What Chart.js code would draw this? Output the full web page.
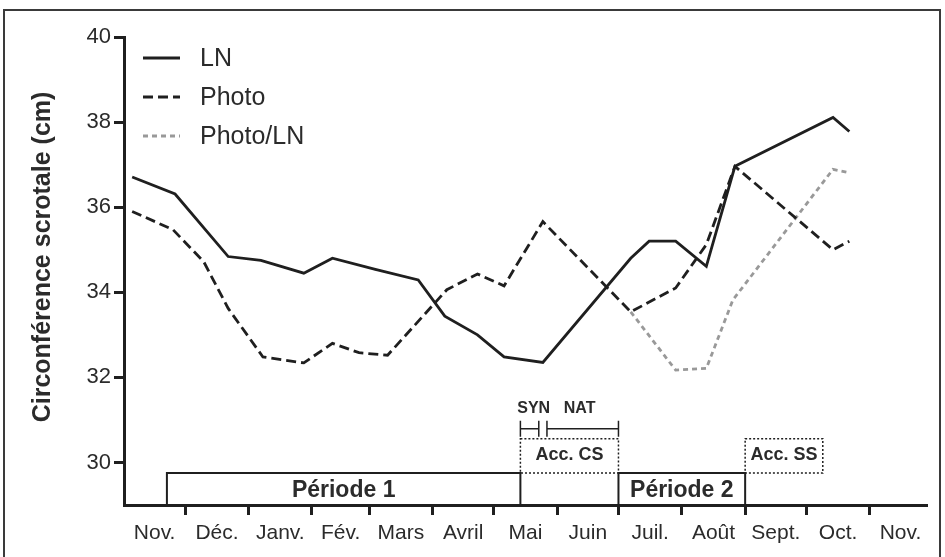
<!DOCTYPE html>
<html>
<head>
<meta charset="utf-8">
<script src="https://cdn.jsdelivr.net/npm/chart.js@4/dist/chart.umd.min.js"></script>
<style>
  html, body { margin: 0; padding: 0; background: #fff; }
  #wrap { width: 945px; height: 557px; position: relative; }
</style>
</head>
<body>
<div id="wrap"><canvas id="c" width="945" height="557"></canvas></div>
<script>
// Time axis: days counted from 1 November
const monthLabels = ['Nov.', 'Déc.', 'Janv.', 'Fév.', 'Mars', 'Avril', 'Mai', 'Juin', 'Juil.', 'Août', 'Sept.', 'Oct.', 'Nov.'];
const monthStarts = [0, 30, 61, 92, 120, 151, 181, 212, 242, 273, 304, 334, 365, 395];
const yTickValues = [30, 32, 34, 36, 38, 40];

// Scrotal circumference (cm) per group
const lnDays = [4, 25, 51, 67, 88, 102, 123, 144, 157, 173, 186, 205, 248, 257, 270, 285, 299, 347, 355];
const lnValues = [36.71, 36.31, 34.84, 34.75, 34.45, 34.80, 34.54, 34.29, 33.44, 33.00, 32.48, 32.35, 34.80, 35.20, 35.20, 34.61, 36.96, 38.11, 37.78];

const photoDays = [4, 24, 39, 51, 68, 88, 102, 115, 129, 158, 173, 186, 205, 248, 270, 285, 299, 347, 355];
const photoValues = [35.90, 35.47, 34.72, 33.62, 32.48, 32.34, 32.80, 32.58, 32.52, 34.06, 34.43, 34.15, 35.66, 33.54, 34.10, 35.12, 36.96, 35.00, 35.20];

const photoLnDays = [248, 270, 285, 298, 347, 355];
const photoLnValues = [33.54, 32.17, 32.21, 33.82, 36.89, 36.81];

// Experimental periods (days)
const periodNames = ['Période 1', 'Période 2'];
const periodStart = [21, 242];
const periodEnd = [194, 304];

const accNames = ['Acc. CS', 'Acc. SS'];
const accStart = [194, 304];
const accEnd = [242, 342];

const phaseNames = ['SYN', 'NAT'];
const phaseStart = [194, 207];
const phaseEnd = [203, 242];

const FONT = "'Liberation Sans', Arial, Helvetica, sans-serif";
const INK = '#1f1f1f';
const TEXT = '#2b2b2b';

const toPoints = (xs, ys) => xs.map((d, i) => ({ x: d, y: ys[i] }));

// Month ticks: boundaries carry the tick marks, mid-month positions carry the names
const monthNameAt = new Map();
for (let i = 0; i < monthLabels.length; i++) {
  monthNameAt.set((monthStarts[i] + monthStarts[i + 1]) / 2, monthLabels[i]);
}
const boundaryTicks = monthStarts.slice(1, 13);

const framePlugin = {
  id: 'frame',
  beforeDraw(chart) {
    const ctx = chart.ctx;
    ctx.save();
    ctx.fillStyle = '#fff';
    ctx.fillRect(0, 0, chart.width, chart.height);
    ctx.strokeStyle = '#3a3a3a';
    ctx.lineWidth = 2;
    ctx.strokeRect(4, 10, 936, 560);
    ctx.restore();
  }
};

const yTitlePlugin = {
  id: 'yTitle',
  afterDraw(chart) {
    const ctx = chart.ctx;
    ctx.save();
    ctx.translate(43, 257);
    ctx.rotate(-Math.PI / 2);
    ctx.font = 'bold 25px ' + FONT;
    ctx.fillStyle = TEXT;
    ctx.textAlign = 'center';
    ctx.textBaseline = 'middle';
    ctx.fillText('Circonférence scrotale (cm)', 0, 0);
    ctx.restore();
  }
};

const legendPlugin = {
  id: 'sideLegend',
  afterDraw(chart) {
    const ctx = chart.ctx;
    const rows = [58, 97, 136];
    ctx.save();
    chart.data.datasets.forEach((ds, i) => {
      const y = rows[i];
      ctx.beginPath();
      ctx.strokeStyle = ds.borderColor;
      ctx.lineWidth = ds.borderWidth;
      ctx.setLineDash(ds.borderDash || []);
      ctx.moveTo(143, y);
      ctx.lineTo(180, y);
      ctx.stroke();
      ctx.setLineDash([]);
      ctx.font = '25px ' + FONT;
      ctx.fillStyle = TEXT;
      ctx.textAlign = 'left';
      ctx.textBaseline = 'middle';
      ctx.fillText(ds.label, 200, y + 1);
    });
    ctx.restore();
  }
};

const periodsPlugin = {
  id: 'periods',
  afterDraw(chart) {
    const ctx = chart.ctx;
    const xs = chart.scales.x, ys = chart.scales.y;
    const px = d => xs.getPixelForValue(d);
    const py = v => ys.getPixelForValue(v);
    const base = chart.chartArea.bottom;
    ctx.save();
    ctx.fillStyle = TEXT;
    ctx.textAlign = 'center';
    ctx.textBaseline = 'middle';

    // Solid period boxes standing on the time axis
    const boxTop = py(29.75);
    ctx.strokeStyle = INK;
    ctx.lineWidth = 2;
    periodNames.forEach((name, i) => {
      const x0 = px(periodStart[i]), x1 = px(periodEnd[i]);
      ctx.beginPath();
      ctx.moveTo(x0, base);
      ctx.lineTo(x0, boxTop);
      ctx.lineTo(x1, boxTop);
      ctx.lineTo(x1, base);
      ctx.stroke();
      ctx.font = 'bold 23px ' + FONT;
      ctx.fillText(name, (x0 + x1) / 2, py(29.34));
    });

    // Dotted acclimation boxes
    const accTop = py(30.56);
    ctx.lineWidth = 1.5;
    ctx.setLineDash([2, 2]);
    accNames.forEach((name, i) => {
      const x0 = px(accStart[i]), x1 = px(accEnd[i]);
      ctx.strokeRect(x0, accTop, x1 - x0, boxTop - accTop);
    });
    ctx.setLineDash([]);
    accNames.forEach((name, i) => {
      const x0 = px(accStart[i]), x1 = px(accEnd[i]);
      ctx.font = 'bold 18px ' + FONT;
      ctx.fillText(name, (x0 + x1) / 2, py(30.165));
    });

    // SYN / NAT range brackets
    const by = py(30.79);
    ctx.lineWidth = 1.5;
    phaseNames.forEach((name, i) => {
      const x0 = px(phaseStart[i]), x1 = px(phaseEnd[i]);
      ctx.beginPath();
      ctx.moveTo(x0, by - 8); ctx.lineTo(x0, by + 8);
      ctx.moveTo(x1, by - 8); ctx.lineTo(x1, by + 8);
      ctx.moveTo(x0, by); ctx.lineTo(x1, by);
      ctx.stroke();
    });
    ctx.font = 'bold 16px ' + FONT;
    ctx.fillText(phaseNames[0], px(phaseStart[0] + 6.5), py(31.27));
    ctx.fillText(phaseNames[1], px(phaseStart[1] + 16), py(31.27));
    ctx.restore();
  }
};

new Chart(document.getElementById('c'), {
  type: 'line',
  data: {
    datasets: [
      {
        label: 'LN',
        data: toPoints(lnDays, lnValues),
        borderColor: INK,
        borderWidth: 2.8,
        borderDash: [],
      },
      {
        label: 'Photo',
        data: toPoints(photoDays, photoValues),
        borderColor: INK,
        borderWidth: 2.8,
        borderDash: [10, 5],
      },
      {
        label: 'Photo/LN',
        data: toPoints(photoLnDays, photoLnValues),
        borderColor: '#999999',
        borderWidth: 2.8,
        borderDash: [5, 4],
      }
    ]
  },
  options: {
    responsive: false,
    animation: false,
    events: [],
    layout: { padding: { left: 0, top: 37, right: 18, bottom: 0 } },
    elements: {
      point: { radius: 0 },
      line: { tension: 0, fill: false, borderCapStyle: 'butt', borderJoinStyle: 'miter' }
    },
    plugins: {
      legend: { display: false },
      tooltip: { enabled: false },
      title: { display: false }
    },
    scales: {
      x: {
        type: 'linear',
        min: 0,
        max: 393,
        afterBuildTicks(scale) {
          const vals = boundaryTicks.concat([...monthNameAt.keys()]).sort((a, b) => a - b);
          scale.ticks = vals.map(v => ({ value: v }));
        },
        afterFit(scale) { scale.height = 52; },
        ticks: {
          autoSkip: false,
          maxRotation: 0,
          minRotation: 0,
          padding: 6,
          color: TEXT,
          font: { family: FONT, size: 21 },
          callback: v => monthNameAt.get(v) || ''
        },
        grid: {
          display: true,
          drawOnChartArea: false,
          drawTicks: true,
          tickLength: 10,
          tickWidth: 3,
          tickColor: ctx => (ctx.tick && monthNameAt.has(ctx.tick.value)) ? 'rgba(0,0,0,0)' : INK
        },
        border: { display: true, color: INK, width: 3 }
      },
      y: {
        type: 'linear',
        min: 29,
        max: 40,
        afterBuildTicks(scale) {
          scale.ticks = yTickValues.map(v => ({ value: v }));
        },
        afterFit(scale) { scale.width = 124; },
        ticks: {
          padding: 3,
          color: TEXT,
          font: { family: FONT, size: 22 },
          callback: v => String(v)
        },
        grid: {
          display: true,
          drawOnChartArea: false,
          drawTicks: true,
          tickLength: 10,
          tickWidth: 3,
          tickColor: INK
        },
        border: { display: true, color: INK, width: 3 }
      }
    }
  },
  plugins: [framePlugin, periodsPlugin, legendPlugin, yTitlePlugin]
});
</script>
</body>
</html>
